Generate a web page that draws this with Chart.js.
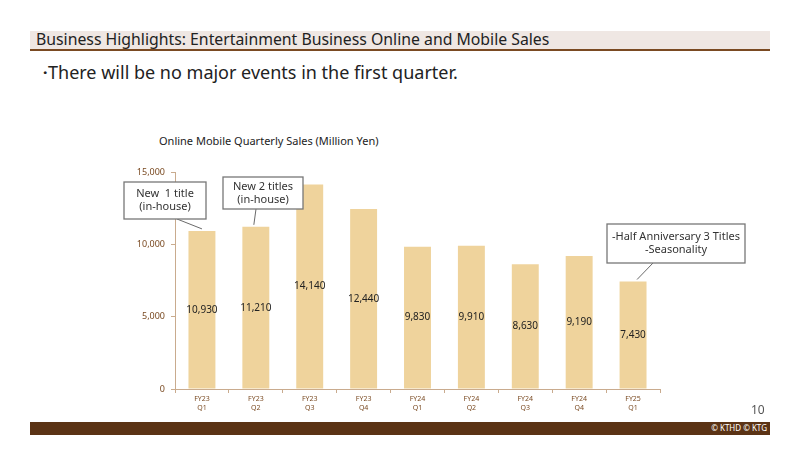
<!DOCTYPE html>
<html>
<head>
<meta charset="utf-8">
<script src="https://cdn.jsdelivr.net/npm/chart.js@4.4.1/dist/chart.umd.min.js"></script>
<style>
  html, body { margin: 0; padding: 0; background: #fff; }
  #page { position: relative; width: 800px; height: 449px; overflow: hidden; font-family: "Noto Sans", sans-serif; }
  #head { position: absolute; left: 30px; top: 31px; width: 740px; height: 18px; background: #efe7e3; border-bottom: 2px solid #7a4a22; }
  #head span { position: absolute; left: 6px; top: -3px; font-size: 15.8px; color: #222; white-space: nowrap; }
  #bullet { position: absolute; left: 36px; top: 60px; font-size: 18px; color: #222; white-space: nowrap; }
  #bullet b { font-weight: normal; display: inline-block; width: 12px; }
  #ctitle { position: absolute; left: 159px; top: 133px; font-size: 11px; color: #222; white-space: nowrap; }
  #pnum { position: absolute; left: 751px; top: 401px; font-size: 12px; color: #555; }
  #foot { position: absolute; left: 30px; top: 422px; width: 740px; height: 13px; background: #5b3315; }
  #foot span { position: absolute; right: 3px; top: 0px; font-size: 8px; color: #fff; }
  canvas { position: absolute; left: 0; top: 0; }
</style>
</head>
<body>
<div id="page">
  <div id="head"><span>Business Highlights: Entertainment Business Online and Mobile Sales</span></div>
  <div id="bullet"><b>・</b>There will be no major events in the first quarter.</div>
  <div id="ctitle">Online Mobile Quarterly Sales (Million Yen)</div>
  <canvas id="chart" width="800" height="449"></canvas>
  <div id="pnum">10</div>
  <div id="foot"><span>© KTHD © KTG</span></div>
</div>
<script>
// quarterly online/mobile sales, million yen
const quarters = [
  ['FY23', 'Q1'], ['FY23', 'Q2'], ['FY23', 'Q3'], ['FY23', 'Q4'],
  ['FY24', 'Q1'], ['FY24', 'Q2'], ['FY24', 'Q3'], ['FY24', 'Q4'],
  ['FY25', 'Q1'],
];
const sales = [10930, 11210, 14140, 12440, 9830, 9910, 8630, 9190, 7430];
const yTicks = [0, 5000, 10000, 15000];

// callout boxes: bar index they point at, text lines, box rect (page px)
const callouts = [
  { bar: 0, lines: ['New  1 title', '(in-house)'], box: [124, 182, 82, 37], from: [177, 219], dx: 0 },
  { bar: 1, lines: ['New 2 titles', '(in-house)'], box: [223, 177, 80, 32], from: [256, 209], dx: -2 },
  { bar: 8, lines: ['-Half Anniversary 3 Titles', '-Seasonality'], box: [607, 224, 138, 39], from: [653, 263], dx: 4 },
];

const fmt = v => v.toLocaleString('en-US');
const brown = '#7a4a22';
const axisColor = '#c9ab8e';

const valueLabels = {
  id: 'valueLabels',
  afterDatasetsDraw(chart) {
    const ctx = chart.ctx;
    const meta = chart.getDatasetMeta(0);
    ctx.save();
    ctx.font = '10px "Noto Sans"';
    ctx.fillStyle = '#222';
    ctx.textAlign = 'center';
    ctx.textBaseline = 'middle';
    meta.data.forEach((bar, i) => {
      ctx.fillText(fmt(sales[i]), bar.x, (bar.y + bar.base) / 2);
    });
    ctx.restore();
  },
};

const calloutPlugin = {
  id: 'callouts',
  afterDraw(chart) {
    const ctx = chart.ctx;
    const meta = chart.getDatasetMeta(0);
    ctx.save();
    callouts.forEach(c => {
      const bar = meta.data[c.bar];
      const [x, y, w, h] = c.box;
      // leader line to the top of the bar
      ctx.strokeStyle = '#444';
      ctx.lineWidth = 0.8;
      ctx.beginPath();
      ctx.moveTo(c.from[0], c.from[1]);
      ctx.lineTo(bar.x + c.dx, bar.y - 2);
      ctx.stroke();
      ctx.fillStyle = '#fff';
      ctx.fillRect(x, y, w, h);
      ctx.strokeStyle = '#777';
      ctx.lineWidth = 1.3;
      ctx.strokeRect(x, y, w, h);
      ctx.fillStyle = '#333';
      ctx.font = '11px "Noto Sans"';
      ctx.textAlign = 'center';
      ctx.textBaseline = 'middle';
      const lh = 13;
      const cy = y + h / 2 - lh / 2 * (c.lines.length - 1);
      c.lines.forEach((t, k) => ctx.fillText(t, x + w / 2, cy + k * lh));
    });
    ctx.restore();
  },
};

new Chart(document.getElementById('chart'), {
  type: 'bar',
  data: {
    labels: quarters,
    datasets: [{
      data: sales,
      backgroundColor: '#efd39c',
      barPercentage: 0.5,
      categoryPercentage: 1,
    }],
  },
  options: {
    responsive: false,
    animation: false,
    events: [],
    layout: { padding: { left: 112, top: 172, right: 140, bottom: 35 } },
    plugins: { legend: { display: false }, tooltip: { enabled: false } },
    scales: {
      x: {
        afterFit: s => { s.height = 25; },
        border: { color: axisColor, width: 1 },
        grid: { drawOnChartArea: false, offset: true, tickLength: 4, color: axisColor },
        ticks: { color: brown, font: { size: 7, family: 'Noto Sans' }, padding: 2, maxRotation: 0 },
      },
      y: {
        min: 0,
        max: 15000,
        afterFit: s => { s.width = 63; },
        afterBuildTicks: s => { s.ticks = yTicks.map(v => ({ value: v })); },
        border: { color: axisColor, width: 1 },
        grid: { drawOnChartArea: false, tickLength: 4, color: axisColor },
        ticks: { color: brown, font: { size: 9, family: 'Noto Sans' }, padding: 6, callback: v => fmt(v) },
      },
    },
  },
  plugins: [valueLabels, calloutPlugin],
});
</script>
</body>
</html>
